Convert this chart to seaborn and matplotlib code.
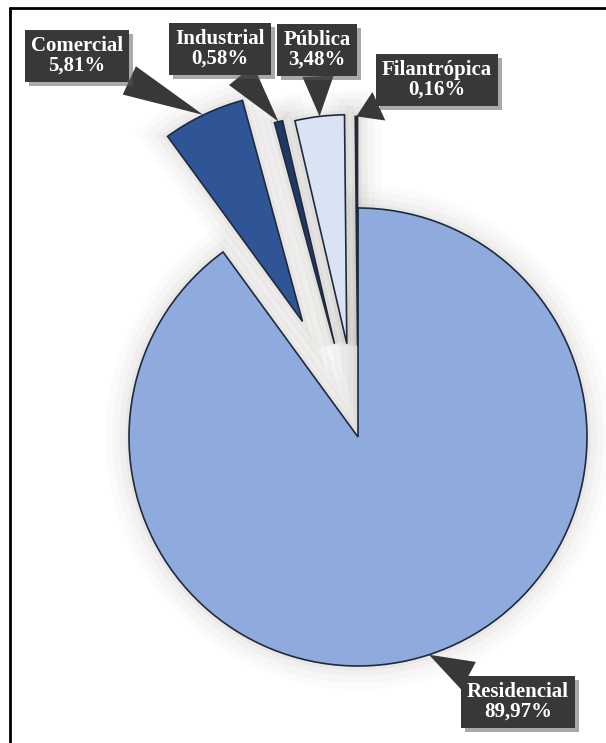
import numpy as np
import matplotlib
matplotlib.use('Agg')
import matplotlib.pyplot as plt
import matplotlib.patheffects as pe
from matplotlib.lines import Line2D
import seaborn as sns

# dados
categorias = ['Residencial', 'Comercial', 'Industrial', 'Pública', 'Filantrópica']
percentuais = [89.97, 5.81, 0.58, 3.48, 0.16]
rotulos = ['89,97%', '5,81%', '0,58%', '3,48%', '0,16%']

# estilo
explosao = [0.0, 0.56, 0.42, 0.41, 0.40]
cores = ['#8FAADC', '#2F5597', '#1F3864', '#DAE3F3', '#2B2B2B']
pos_rotulos = [(518, 702), (77, 56), (220, 49), (317, 50), (437, 80)]  # pixels

sns.set_theme(style='white')
plt.rcParams['font.family'] = ['Liberation Serif', 'DejaVu Serif']

W, H = 606, 743
fig = plt.figure(figsize=(W / 100, H / 100), dpi=100)
ax = fig.add_axes([0, 0, 1, 1])

# centro e raio da pizza em pixels
cx, cy, R = 358, 437, 229


def px(x, y):
    return ((x - cx) / R, (cy - y) / R)


# sombra suave atras das fatias
glow = [pe.Stroke(linewidth=lw, foreground='#9a9288', alpha=a)
        for lw, a in [(34, 0.03), (24, 0.04), (14, 0.06), (6, 0.08)]]
ax.pie(percentuais, explode=explosao, startangle=90, counterclock=False,
       colors=['white'] * len(percentuais),
       wedgeprops=dict(linewidth=0, path_effects=glow))

wedges, _ = ax.pie(percentuais, explode=explosao, startangle=90, counterclock=False,
                   colors=cores, wedgeprops=dict(edgecolor='#1f2a3e', linewidth=1.2))

for w, cat, rot, pos in zip(wedges, categorias, rotulos, pos_rotulos):
    t = np.deg2rad((w.theta1 + w.theta2) / 2)
    xy = (w.center[0] + w.r * np.cos(t), w.center[1] + w.r * np.sin(t))
    ann = ax.annotate(f'{cat}\n{rot}', xy=xy, xytext=px(*pos),
                      ha='center', va='center', color='white',
                      fontsize=15, fontweight='bold', linespacing=1.0,
                      bbox=dict(boxstyle='square,pad=0.3', fc='#383838', ec='none'),
                      arrowprops=dict(arrowstyle='wedge,tail_width=1.5,shrink_factor=0.5',
                                      fc='#383838', ec='none', shrinkA=0, shrinkB=0))
    ann.get_bbox_patch().set_path_effects(
        [pe.SimplePatchShadow(offset=(3, -3), shadow_rgbFace='#555555', alpha=0.5), pe.Normal()])

ax.set_xlim(-cx / R, (W - cx) / R)
ax.set_ylim(-(H - cy) / R, cy / R)
ax.set_aspect('equal')
ax.axis('off')

# moldura (so esquerda e topo aparecem)
fig.add_artist(Line2D([10 / W, 10 / W], [0, 1 - 8 / H], color='black', lw=2))
fig.add_artist(Line2D([10 / W, 1], [1 - 8 / H, 1 - 8 / H], color='black', lw=2))

fig.savefig('out.png', dpi=100)
